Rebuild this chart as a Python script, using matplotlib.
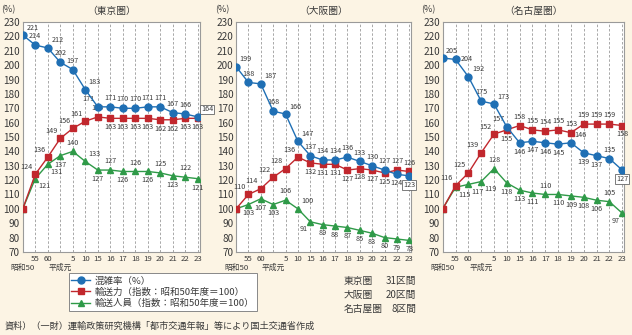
#!/usr/bin/env python3
"""Congestion rate, transport capacity and ridership in the three metro areas."""

import matplotlib

matplotlib.use("Agg")
import matplotlib.pyplot as plt
from matplotlib.lines import Line2D

plt.rcParams["font.family"] = ["Noto Sans CJK JP", "DejaVu Sans"]

# x categories (昭和50 ... 平成23)
years = ["昭和50", "55", "60", "平成元", "5", "10", "15", "16", "17", "18",
         "19", "20", "21", "22", "23"]
tick_labels = ["", "55", "60", "", "5", "10", "15", "16", "17", "18",
               "19", "20", "21", "22", "23"]

areas = ["（東京圏）", "（大阪圏）", "（名古屋圏）"]

tokyo_congestion = [221, 214, 212, 202, 197, 183, 171, 171, 170, 170, 171, 171, 167, 166, 164]
tokyo_capacity = [100, 124, 136, 149, 156, 161, 164, 163, 163, 163, 163, 162, 162, 163, 163]
tokyo_riders = [100, 121, 131, 137, 140, 133, 127, 127, 126, 126, 126, 125, 123, 122, 121]

osaka_congestion = [199, 188, 187, 168, 166, 147, 137, 134, 134, 136, 133, 130, 127, 124, 123]
osaka_capacity = [100, 110, 114, 122, 128, 136, 132, 131, 131, 127, 128, 127, 125, 127, 126]
osaka_riders = [100, 103, 107, 103, 106, 100, 91, 89, 88, 87, 85, 83, 80, 79, 78]

nagoya_congestion = [205, 204, 192, 175, 173, 157, 146, 147, 146, 145, 146, 139, 137, 135, 127]
nagoya_capacity = [100, 116, 125, 139, 152, 155, 158, 155, 154, 155, 153, 159, 159, 159, 158]
nagoya_riders = [100, 115, 117, 119, 128, 118, 113, 111, 110, 110, 109, 108, 106, 105, 97]

sections = [("東京圏", "31区間"), ("大阪圏", "20区間"), ("名古屋圏", "8区間")]
legend_labels = ["混雑率（%）", "輸送力（指数：昭和50年度＝100）",
                 "輸送人員（指数：昭和50年度＝100）"]
source = "資料）（一財）運輸政策研究機構「都市交通年報」等により国土交通省作成"

# label placement per point (a=above, b=below, ar/al/br/bl diagonals, r=right, -=none)
place = {
    "tokyo": (
        "ar a ar a a ar al a a a a a a a ar".split(),
        "- al al al al al a b b b b b b b b".split(),
        "- br br b a ar b a b a b a b a b".split(),
    ),
    "osaka": (
        "ar a ar a ar ar a a a a a a a b b".split(),
        "- al al al al al b b b b b b b a a".split(),
        "- b b b a ar bl b b b b b b b b".split(),
    ),
    "nagoya": (
        "ar r ar a ar al b b b b ar b b a b".split(),
        "- al al al al b a a a a a a a a b".split(),
        "- br br br a b b b a b b b b a bl".split(),
    ),
}

OFFSETS = {
    "a": ((0, 3.5), "center", "bottom"),
    "b": ((0, -3.5), "center", "top"),
    "ar": ((2.5, 2.5), "left", "bottom"),
    "al": ((-2, 2.5), "right", "bottom"),
    "br": ((2, -2.5), "left", "top"),
    "bl": ((-2, -2.5), "right", "top"),
    "r": ((3.5, 0.5), "left", "center"),
}

BLUE = "#1f6fb4"
RED = "#c1272d"
GREEN = "#2f9a48"
TEXT = "#3a3a3a"
BG = "#fcf4e4"


def label_points(ax, values, codes, box_last=False):
    for i, (v, c) in enumerate(zip(values, codes)):
        if c == "-":
            continue
        off, ha, va = OFFSETS[c]
        kw = {}
        if box_last and i == len(values) - 1:
            kw["bbox"] = dict(boxstyle="square,pad=0.12", fc="white", ec="#666666", lw=0.6)
        ax.annotate(str(v), (i, v), xytext=off, textcoords="offset points",
                    ha=ha, va=va, fontsize=5.2, color=TEXT, **kw)


def draw_panel(ax, title, congestion, capacity, riders, codes):
    x = list(range(len(years)))
    ax.set_facecolor("white")
    for xi in x[1:]:
        ax.axvline(xi, color="#9a9a9a", lw=0.6, dashes=(3, 2.2), zorder=0)
    ax.plot(x, riders, color=GREEN, marker="^", ms=5, lw=1.0, zorder=3)
    ax.plot(x, capacity, color=RED, marker="s", ms=4, lw=1.0, zorder=4)
    ax.plot(x, congestion, color=BLUE, marker="o", ms=5, lw=1.0, zorder=5)
    label_points(ax, congestion, codes[0], box_last=True)
    label_points(ax, capacity, codes[1])
    label_points(ax, riders, codes[2])

    ax.set_xlim(0, 14.15)
    ax.set_ylim(70, 230)
    ax.set_yticks(range(70, 231, 10))
    ax.set_xticks(x)
    ax.set_xticklabels(tick_labels)
    ax.tick_params(axis="y", length=0, pad=2, labelsize=7.2, labelcolor=TEXT)
    ax.tick_params(axis="x", length=0, pad=2, labelsize=5.6, labelcolor=TEXT)
    for s in ax.spines.values():
        s.set_color("#9a9a9a")
        s.set_linewidth(0.8)
    # era names under the first tick and under 平成元
    for i in (0, 3):
        ax.annotate(years[i], (i, 70), xytext=(0, -8.5), textcoords="offset points",
                    ha="center", va="top", fontsize=5.6, color=TEXT,
                    annotation_clip=False)
    ax.set_title(title, fontsize=7, color=TEXT, pad=6)
    ax.text(-0.12, 1.035, "(%)", transform=ax.transAxes, ha="left", va="bottom",
            fontsize=6.5, color=TEXT)


fig = plt.figure(figsize=(6.32, 3.35), dpi=100, facecolor=BG)
panels = [
    ([0.036, 0.248, 0.280, 0.686], tokyo_congestion, tokyo_capacity, tokyo_riders, place["tokyo"]),
    ([0.3735, 0.248, 0.277, 0.686], osaka_congestion, osaka_capacity, osaka_riders, place["osaka"]),
    ([0.7005, 0.248, 0.287, 0.686], nagoya_congestion, nagoya_capacity, nagoya_riders, place["nagoya"]),
]
for title, (rect, cong, cap, rid, codes) in zip(areas, panels):
    ax = fig.add_axes(rect)
    draw_panel(ax, title, cong, cap, rid, codes)

handles = [
    Line2D([], [], color=BLUE, marker="o", ms=5, lw=1.0),
    Line2D([], [], color=RED, marker="s", ms=4, lw=1.0),
    Line2D([], [], color=GREEN, marker="^", ms=5, lw=1.0),
]
leg = fig.legend(handles, legend_labels, loc="lower left", bbox_to_anchor=(0.101, 0.058),
                 fontsize=6.8, frameon=True, fancybox=False, handlelength=2.0,
                 handletextpad=0.5, borderpad=0.3, labelspacing=0.22, framealpha=1)
leg.get_frame().set_edgecolor("#888888")
leg.get_frame().set_linewidth(0.7)
for t in leg.get_texts():
    t.set_color(TEXT)

for i, (name, count) in enumerate(sections):
    y = 0.161 - i * 0.042
    fig.text(0.544, y, name, ha="left", va="center", fontsize=7, color=TEXT)
    fig.text(0.659, y, count, ha="right", va="center", fontsize=7, color=TEXT)

fig.text(0.008, 0.027, source, ha="left", va="center", fontsize=6.6, color=TEXT)

fig.savefig("out.png", dpi=100, facecolor=BG)
